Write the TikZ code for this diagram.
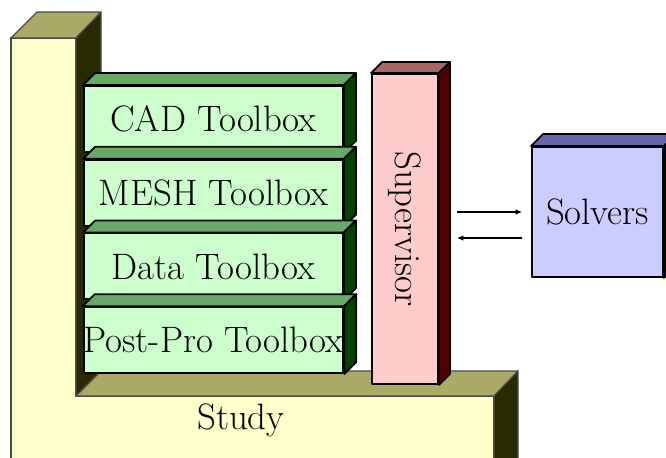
\documentclass[tikz,border=0pt]{standalone}
\usepackage{fontspec}
\usetikzlibrary{arrows.meta,calc}
\definecolor{stF}{HTML}{FFFFCC}\definecolor{stT}{HTML}{AAAA66}\definecolor{stS}{HTML}{2A2A00}
\definecolor{tlF}{HTML}{CCFFCC}\definecolor{tlT}{HTML}{66AA66}\definecolor{tlS}{HTML}{004400}
\definecolor{spF}{HTML}{FFCCCC}\definecolor{spT}{HTML}{AA6666}\definecolor{spS}{HTML}{550000}
\definecolor{svF}{HTML}{CCCCFF}\definecolor{svT}{HTML}{6666AA}\definecolor{svS}{HTML}{000055}
\newcommand\boxfaces[4]{%
  \filldraw[fill=#3] (#1.north west) -- ++(#2,-#2) -- ($(#1.north east)+(#2,-#2)$) -- (#1.north east) -- cycle;
  \filldraw[fill=#4] (#1.north east) -- ++(#2,-#2) -- ($(#1.south east)+(#2,-#2)$) -- (#1.south east) -- cycle;
}
\begin{document}
\begin{tikzpicture}[x=0.5pt,y=-0.5pt,
  font=\fontsize{18.4}{22}\selectfont,
  face/.style={draw=black, line width=0.9pt, inner sep=0pt},
  tool/.style={face, fill=tlF, minimum width=129.5pt, minimum height=33pt},
  arr/.style={-{Latex[length=3.2pt,width=2.8pt]}, line width=0.9pt}]
\useasboundingbox (0,0) rectangle (666,458);
\clip (0,0) rectangle (666,458);
% Study
\begin{scope}[draw=black!70, line width=0.6pt, line join=round]
  \filldraw[fill=stF] (11,38) -- (76,38) -- (76,396) -- (494,396) -- (494,480) -- (11,480) -- cycle;
  \filldraw[fill=stT] (11,38) -- (37,12) -- (101,12) -- (76,38) -- cycle;
  \filldraw[fill=stS] (76,38) -- (101,12) -- (101,371) -- (76,396) -- cycle;
  \filldraw[fill=stT] (76,396) -- (101,371) -- (518,371) -- (494,396) -- cycle;
  \filldraw[fill=stS] (494,396) -- (518,371) -- (518,480) -- (494,480) -- cycle;
\end{scope}
\node (study) at (241,420) {Study};
% Toolboxes
\begin{scope}[draw=black, line width=0.9pt, line join=round]
  \node[tool] (cad) at (213.5,119) {CAD Toolbox};
  \boxfaces{cad}{12}{tlT}{tlS}
  \node[tool] (mesh) at (213.5,192.7) {MESH Toolbox};
  \boxfaces{mesh}{12}{tlT}{tlS}
  \node[tool] (data) at (213.5,266.4) {Data Toolbox};
  \boxfaces{data}{12}{tlT}{tlS}
  \node[tool] (post) at (213.5,340.1) {Post-Pro Toolbox};
  \boxfaces{post}{12}{tlT}{tlS}
  % Supervisor
  \node[face, fill=spF, minimum width=33pt, minimum height=155pt] (sup) at (405,229) {};
  \boxfaces{sup}{11}{spT}{spS}
  \node[rotate=-90] (suptext) at (sup.center) {Supervisor};
  % Solvers
  \node[face, fill=svF, minimum width=65.5pt, minimum height=65pt] (sol) at (597.5,212) {Solvers};
  \boxfaces{sol}{12}{svT}{svS}
\end{scope}
% Arrows
\draw[arr] ($(sup.east |- sol.west)+(18,0)$) -- ($(sol.west)+(-9,0)$);
\draw[arr] ($(sol.west)+(-9,26)$) -- ($(sup.east |- sol.west)+(18,26)$);
\end{tikzpicture}
\end{document}
